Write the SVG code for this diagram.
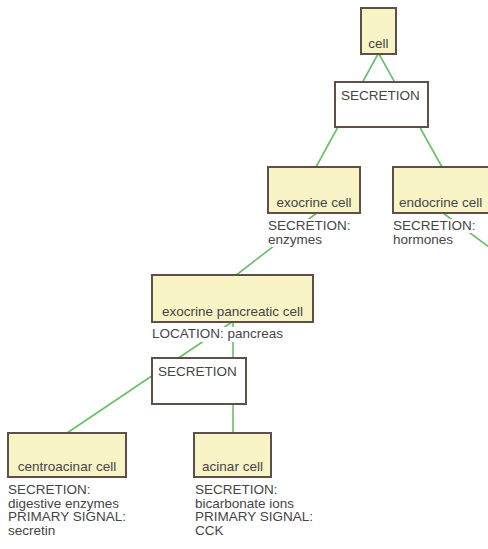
<svg xmlns="http://www.w3.org/2000/svg" width="488" height="549" viewBox="0 0 488 549">
<style>
.bg{fill:#ffffff}
.node rect.box{fill:#f8f4c6;stroke:#5e5049;stroke-width:2}
.node rect.grp{fill:#ffffff;stroke:#5e5049;stroke-width:2}
text{font-family:"Liberation Sans",Arial,sans-serif;font-size:13.5px;fill:#454545}
.lbg{fill:#ffffff}
.conn line{stroke:#66c066;stroke-width:1.6}
</style>
<rect class="bg" x="0" y="0" width="488" height="549"/>
<g id="connectors" class="conn">
<line x1="378" y1="54" x2="316" y2="167"/>
<line x1="379" y1="54" x2="442" y2="167"/>
<line x1="318" y1="212" x2="235" y2="276"/>
<line x1="443" y1="213" x2="500" y2="255"/>
<line x1="233" y1="322" x2="233" y2="433"/>
<line x1="67" y1="433" x2="232" y2="322"/>
</g>
<g id="cell" class="node">
<rect class="box" x="361" y="8" width="35" height="46"/>
<text x="378.5" y="48" text-anchor="middle">cell</text>
</g>
<g id="secretion1" class="node">
<rect class="grp" x="335" y="82" width="93" height="45"/>
<text x="341" y="100">SECRETION</text>
</g>
<g id="exocrine" class="node">
<rect class="box" x="268" y="167" width="92" height="46"/>
<text x="314" y="207" text-anchor="middle">exocrine cell</text>
<rect class="lbg" x="268" y="219" width="84" height="14"/>
<rect class="lbg" x="268" y="233" width="56" height="14"/>
<text x="268" y="230">SECRETION:</text>
<text x="268" y="243.7">enzymes</text>
</g>
<g id="endocrine" class="node">
<rect class="box" x="393" y="167" width="100" height="46"/>
<text x="399" y="207">endocrine cell</text>
<rect class="lbg" x="393" y="219" width="84" height="14"/>
<rect class="lbg" x="393" y="233" width="62" height="14"/>
<text x="393" y="230">SECRETION:</text>
<text x="393" y="243.7">hormones</text>
</g>
<g id="exocrine-pancreatic" class="node">
<rect class="box" x="152" y="275" width="161" height="47"/>
<text x="232.5" y="316" text-anchor="middle">exocrine pancreatic cell</text>
<rect class="lbg" x="152" y="327" width="134" height="15"/>
<text x="152" y="338">LOCATION: pancreas</text>
</g>
<g id="secretion2" class="node">
<rect class="grp" x="152" y="358" width="94" height="46"/>
<text x="158" y="376">SECRETION</text>
</g>
<g id="centroacinar" class="node">
<rect class="box" x="8" y="433" width="118" height="44"/>
<text x="67" y="471" text-anchor="middle">centroacinar cell</text>
<text x="8" y="494">SECRETION:</text>
<text x="8" y="507.7">digestive enzymes</text>
<text x="8" y="521.4">PRIMARY SIGNAL:</text>
<text x="8" y="535.1">secretin</text>
</g>
<g id="acinar" class="node">
<rect class="box" x="194" y="433" width="77" height="44"/>
<text x="232.5" y="471" text-anchor="middle">acinar cell</text>
<text x="195" y="494">SECRETION:</text>
<text x="195" y="507.7">bicarbonate ions</text>
<text x="195" y="521.4">PRIMARY SIGNAL:</text>
<text x="195" y="535.1">CCK</text>
</g>
</svg>
